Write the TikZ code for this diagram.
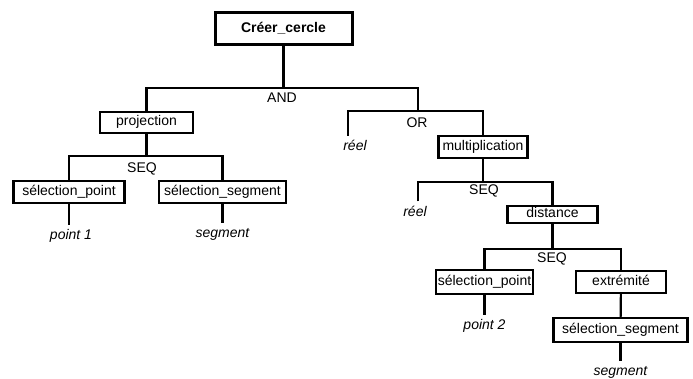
\documentclass[tikz,border=0pt]{standalone}
\usepackage{fontspec}
\setmainfont{Liberation Sans}
\tikzset{
  boite/.style={draw, line width=2.2pt, minimum height=22pt, inner sep=0pt, text height=10pt, text depth=3pt},
  feuille/.style={font=\fontsize{14pt}{16pt}\selectfont\itshape, inner sep=0pt, outer sep=5pt, text height=10pt, text depth=3pt},
  oper/.style={inner sep=0pt, text height=10pt, text depth=3pt},
  lien/.style={line width=2.2pt}
}
\begin{document}
\begin{tikzpicture}[x=1pt,y=-1pt,every node/.style={font=\fontsize{14pt}{16pt}\selectfont}]
    \useasboundingbox (0,0) rectangle (693,379);
    % racine
    \node [boite, line width=3pt, minimum width=137pt, minimum height=32pt, font=\fontsize{14pt}{16pt}\selectfont\bfseries] (creer) at (283.5,29) {Créer\_cercle};
    \coordinate (and) at (283.5,88);
    \node [oper] (andlbl) at (282,99.5) {AND};
    \draw [lien] (creer) -- (and);

    \node [boite, minimum width=93pt, minimum height=21pt] (proj) at (146.5,122.5) {projection};
    \coordinate (or) at (418,111);
    \draw [lien] (proj) |- (and) -| (or);

    % branche OR
    \node [oper] (orlbl) at (417,124.5) {OR};
    \node [feuille] (reelA) at (355,147.5) {réel};
    \node [boite, minimum width=89pt] (mult) at (483,147) {multiplication};
    \draw [lien] ([xshift=-7pt]reelA.north) |- (or) -| (mult);

    % branche projection
    \coordinate (seqA) at (146.5,156);
    \node [oper] (seqAlbl) at (142,169.5) {SEQ};
    \node [boite, minimum width=111pt] (selPA) at (69,192) {sélection\_point};
    \node [boite, minimum width=127pt] (selSA) at (222.5,192) {sélection\_segment};
    \draw [lien] (proj) -- (seqA);
    \draw [lien] (selPA) |- (seqA) -| (selSA);
    \node [feuille] (pt1) at (71,236.5) {point 1};
    \node [feuille] (segA) at (222.5,234.5) {segment};
    \draw [lien] (selPA) -- (selPA |- pt1.north);
    \draw [lien] (selSA) -- (segA);

    % branche multiplication
    \coordinate (seqB) at (483,182);
    \node [oper] (seqBlbl) at (484,191.5) {SEQ};
    \draw [lien] (mult) -- (seqB);
    \node [feuille] (reelB) at (415,213) {réel};
    \node [boite, minimum width=90pt, minimum height=17pt] (dist) at (552.5,214.5) {distance};
    \draw [lien] ([xshift=3pt]reelB.north) |- (seqB) -| (dist);

    % branche distance
    \coordinate (seqC) at (552.5,249);
    \node [oper] (seqClbl) at (552,259.5) {SEQ};
    \draw [lien] (dist) -- (seqC);
    \node [boite, minimum width=97pt, minimum height=24pt] (selPB) at (484.5,282) {sélection\_point};
    \node [boite, minimum width=90pt] (extr) at (621,282) {extrémité};
    \draw [lien] (selPB) |- (seqC) -| (extr);
    \node [feuille] (pt2) at (484.5,326) {point 2};
    \draw [lien] (selPB) -- (pt2);
    \node [boite, minimum width=134pt, minimum height=24pt] (selSB) at (620.5,330) {sélection\_segment};
    \draw [lien] (extr) -- (selSB);
    \node [feuille] (segB) at (620.5,372) {segment};
    \draw [lien] (selSB) -- (segB);
\end{tikzpicture}
\end{document}
